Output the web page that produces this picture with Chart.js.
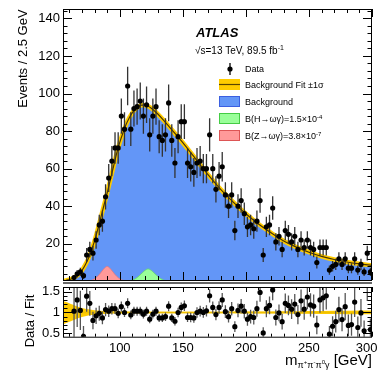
<!DOCTYPE html>
<html>
<head>
<meta charset="utf-8">
<script src="https://cdn.jsdelivr.net/npm/chart.js@4/dist/chart.umd.min.js"></script>
<style>
  html, body { margin: 0; padding: 0; background: #fff; }
  #wrap { position: relative; width: 391px; height: 382px; overflow: hidden; }
  canvas { position: absolute; left: 0; }
  #main { top: 0; }
  #ratio { top: 283px; }
</style>
</head>
<body>
<div id="wrap">
  <canvas id="main" width="391" height="284"></canvas>
  <canvas id="ratio" width="391" height="99"></canvas>
</div>
<script>
const FONT = '"Liberation Sans", Arial, Helvetica, sans-serif';

// 2.5 GeV bins, first filled bin centred at 63.75 GeV
const binLow = 62.5;
const binWidth = 2.5;

const counts = [
  2, 4, 5, 3, 14, 17, 15, 22, 30, 32,
  45, 55, 64, 71, 71, 88, 81, 104, 81, 92,
  93, 96, 88, 94, 78, 88, 93, 77, 75, 78,
  95, 75, 63, 77, 85, 85, 63, 61, 58, 63,
  64, 60, 60, 78, 60, 49, 56, 61, 46, 40,
  46, 27, 40, 43, 36, 29, 30, 28, 32, 43,
  14, 29, 30, 39, 21, 24, 17, 27, 25, 21,
  24, 17, 22, 18, 22, 18, 17, 10, 18, 18,
  18, 6, 8, 9, 12, 9, 12, 7, 7, 12,
  6, 9, 5, 15, 5
];

const ratio = [
  1.03, 1.30, 1.05, 0.43, 1.39, 1.22, 0.81, 0.92, 0.98, 0.87,
  1.07, 1.03, 1.09, 1.09, 0.98, 1.14, 1.00, 1.22, 0.94, 1.03,
  1.03, 1.03, 0.96, 1.03, 0.84, 0.96, 1.03, 0.87, 0.87, 0.90,
  1.15, 0.87, 0.79, 1.00, 1.12, 1.16, 0.88, 0.88, 0.87, 1.00,
  1.03, 1.00, 1.04, 1.40, 1.12, 0.95, 1.12, 1.30, 1.02, 0.90,
  1.09, 0.66, 1.05, 1.15, 1.03, 0.84, 0.90, 0.88, 1.09, 1.48,
  0.51, 1.09, 1.17, 1.54, 0.88, 0.99, 0.78, 1.22, 1.17, 1.08,
  1.20, 0.95, 1.28, 1.08, 1.37, 1.18, 1.15, 0.70, 1.30, 1.35,
  1.40, 0.48, 0.67, 0.78, 1.07, 0.83, 1.14, 0.69, 0.71, 1.25,
  0.64, 0.99, 0.56, 1.72, 0.59
];

const fitMass = [55, 57.5, 60, 62.5, 65, 67.5, 70, 72.5, 75, 77.5,
  80, 82.5, 85, 87.5, 90, 92.5, 95, 97.5, 100, 102.5,
  105, 107.5, 110, 112.5, 115, 117.5, 120, 122.5, 125, 130,
  135, 140, 145, 150, 155, 160, 165, 170, 175, 180,
  185, 190, 195, 200, 210, 220, 230, 240, 250, 260,
  270, 280, 290, 300];
const fitVals = [0.2, 0.5, 0.9, 1.5, 2.5, 3.8, 5.8, 8.6, 12, 16.3,
  21.5, 27.5, 34, 40.5, 47, 54, 61, 68, 74, 79,
  83.5, 87, 89.8, 91.8, 93.1, 93.8, 93.8, 93.2, 92.2, 89.2,
  85.6, 81.7, 77.8, 73.8, 69.6, 65.3, 61, 56.8, 52.8, 49,
  45.5, 42.2, 39, 36, 30.5, 25.8, 21.5, 18.2, 15.5, 13.3,
  11.6, 10.3, 9.3, 8.5];

const zMass = [74, 78, 81, 84, 86, 88, 90, 92, 94, 96, 99, 102, 106];
const zVals = [0, 0.6, 1.8, 3.8, 5.5, 7.1, 7.9, 7.1, 5.5, 3.8, 1.8, 0.6, 0];
const hMass = [106, 110, 113, 116, 118, 120, 122.5, 125, 127, 129, 132, 135, 139];
const hVals = [0, 0.6, 1.6, 3.3, 4.6, 5.8, 6.6, 5.8, 4.6, 3.3, 1.6, 0.6, 0];

const bandMass = [55, 57.5, 60, 62.5, 65, 67.5, 70, 75, 80, 85, 90, 95, 100, 110, 120, 140, 160, 180, 200, 220, 240, 260, 280, 300];
const bandUp = [1.28, 1.25, 1.22, 1.19, 1.16, 1.13, 1.11, 1.075, 1.055, 1.04, 1.032, 1.027, 1.024, 1.02, 1.02, 1.02, 1.02, 1.02, 1.022, 1.025, 1.03, 1.035, 1.04, 1.045];
const bandLo = [0.72, 0.75, 0.78, 0.81, 0.84, 0.87, 0.89, 0.925, 0.945, 0.96, 0.968, 0.973, 0.976, 0.98, 0.98, 0.98, 0.98, 0.98, 0.978, 0.975, 0.97, 0.965, 0.96, 0.955];

const mainYTicks = [20, 40, 60, 80, 100, 120, 140];
const ratioYTicks = [0.5, 1, 1.5];
const xTicks = [100, 150, 200, 250, 300];

const centers = counts.map((_, i) => binLow + binWidth * (i + 0.5));
const xy = (xs, ys) => xs.map((x, i) => ({ x: x, y: ys[i] }));

const BLUE = 'rgb(99,150,247)';
const YELLOW = '#ffcc00';

// draw text made of runs (sub/superscripts), aligned left or right at x
function drawRuns(ctx, runs, x, y, align) {
  let total = 0;
  runs.forEach(r => {
    ctx.font = (r.style || '') + ' ' + r.s + 'px ' + FONT;
    r.w = ctx.measureText(r.t).width;
    total += r.w;
  });
  let cx = align === 'right' ? x - total : x;
  ctx.textAlign = 'left';
  ctx.textBaseline = 'alphabetic';
  runs.forEach(r => {
    ctx.font = (r.style || '') + ' ' + r.s + 'px ' + FONT;
    ctx.fillText(r.t, cx, y + (r.dy || 0));
    cx += r.w;
  });
}

function drawFrameTicks(chart, yMin, yMax, yStep, isMajor, yLen, xLen) {
  const { ctx, chartArea: a } = chart;
  const xs = chart.scales.x, ys = chart.scales.y;
  ctx.save();
  ctx.strokeStyle = '#000';
  ctx.lineWidth = 1;
  ctx.beginPath();
  for (let v = 60; v <= 300; v += 10) {
    const px = Math.round(xs.getPixelForValue(v)) + 0.5;
    const len = v % 50 === 0 ? xLen[0] : xLen[1];
    ctx.moveTo(px, a.bottom); ctx.lineTo(px, a.bottom - len);
    ctx.moveTo(px, a.top); ctx.lineTo(px, a.top + len);
  }
  for (let i = yMin; i <= yMax; i++) {
    const v = i * yStep;
    const py = Math.round(ys.getPixelForValue(v)) + 0.5;
    const len = isMajor(i) ? yLen[0] : yLen[1];
    ctx.moveTo(a.left, py); ctx.lineTo(a.left + len, py);
    ctx.moveTo(a.right, py); ctx.lineTo(a.right - len, py);
  }
  ctx.stroke();
  ctx.strokeRect(a.left + 0.5, a.top + 0.5, a.right - a.left - 1, a.bottom - a.top);
  ctx.restore();
}

function drawErrors(chart, meta, errs, color) {
  const { ctx, chartArea: a } = chart;
  const ys = chart.scales.y;
  ctx.save();
  ctx.beginPath();
  ctx.rect(a.left, a.top, a.right - a.left, a.bottom - a.top);
  ctx.clip();
  ctx.strokeStyle = color;
  ctx.lineWidth = 1.3;
  ctx.beginPath();
  meta.data.forEach((pt, i) => {
    const v = meta._parsed[i].y;
    ctx.moveTo(pt.x, ys.getPixelForValue(v + errs[i]));
    ctx.lineTo(pt.x, ys.getPixelForValue(v - errs[i]));
  });
  ctx.stroke();
  ctx.restore();
}

function noPadY(s, w) {
  s.width = w;
  s.paddingTop = 0;
  s.paddingBottom = 0;
}

const mainDecor = {
  id: 'mainDecor',
  beforeDatasetDraw(chart, args) {
    if (args.index === 0) {
      drawErrors(chart, args.meta, counts.map(n => Math.sqrt(n)), '#333');
    }
  },
  afterDraw(chart) {
    const ctx = chart.ctx;
    drawFrameTicks(chart, 1, 36, 4, i => i % 5 === 0, [9, 4.5], [8, 4]);
    ctx.save();
    // panel divider
    ctx.strokeStyle = '#666';
    ctx.lineWidth = 2;
    ctx.beginPath();
    ctx.moveTo(chart.chartArea.left, 283);
    ctx.lineTo(chart.chartArea.right, 283);
    ctx.stroke();

    ctx.fillStyle = '#000';
    // y title
    ctx.save();
    ctx.translate(23, 58.5);
    ctx.rotate(-Math.PI / 2);
    ctx.font = '13px ' + FONT;
    ctx.textAlign = 'center';
    ctx.textBaseline = 'middle';
    ctx.fillText('Events / 2.5 GeV', 0, 0);
    ctx.restore();

    // ATLAS label
    drawRuns(ctx, [{ t: 'ATLAS', s: 13, style: 'italic bold' }], 196, 37, 'left');
    drawRuns(ctx, [{ t: '\u221As=13 TeV, 89.5 fb', s: 10 }, { t: '-1', s: 7, dy: -4 }], 195, 54, 'left');

    // legend
    const tx = 245;
    ctx.strokeStyle = '#000';
    ctx.lineWidth = 1.3;
    ctx.beginPath(); ctx.moveTo(230, 63); ctx.lineTo(230, 75); ctx.stroke();
    ctx.beginPath(); ctx.arc(230, 69, 2.6, 0, Math.PI * 2); ctx.fill();
    drawRuns(ctx, [{ t: 'Data', s: 9 }], tx, 72.2, 'left');

    ctx.fillStyle = YELLOW;
    ctx.fillRect(219, 79, 21, 11);
    ctx.strokeStyle = '#5a4500';
    ctx.lineWidth = 1.2;
    ctx.beginPath(); ctx.moveTo(219, 84.5); ctx.lineTo(240, 84.5); ctx.stroke();
    ctx.fillStyle = '#000';
    drawRuns(ctx, [{ t: 'Background Fit \u00B11\u03C3', s: 9 }], tx, 88, 'left');

    const boxes = [
      { y: 96, fill: BLUE, line: '#3b5fe0', runs: [{ t: 'Background', s: 9 }] },
      { y: 113, fill: '#99ff99', line: '#44cc44', runs: [{ t: 'B(H\u2192\u03C9\u03B3)=1.5\u00D710', s: 9 }, { t: '-4', s: 6, dy: -3.5 }] },
      { y: 130, fill: '#ff9999', line: '#dd5555', runs: [{ t: 'B(Z\u2192\u03C9\u03B3)=3.8\u00D710', s: 9 }, { t: '-7', s: 6, dy: -3.5 }] }
    ];
    boxes.forEach(b => {
      ctx.fillStyle = b.fill;
      ctx.fillRect(219, b.y, 21, 11);
      ctx.strokeStyle = b.line;
      ctx.lineWidth = 1;
      ctx.strokeRect(219.5, b.y + 0.5, 20, 10);
      ctx.fillStyle = '#000';
      drawRuns(ctx, b.runs, tx, b.y + 9, 'left');
    });
    ctx.restore();
  }
};

new Chart(document.getElementById('main'), {
  type: 'line',
  data: {
    datasets: [
      { label: 'Data', data: xy(centers, counts), showLine: false, pointRadius: 2.6,
        pointBackgroundColor: '#000', pointBorderWidth: 0, order: 0 },
      { label: 'Fit', data: xy(fitMass, fitVals), borderColor: '#4a3500', borderWidth: 1.2,
        pointRadius: 0, cubicInterpolationMode: 'monotone', order: 1 },
      { label: 'Fit band', data: xy(fitMass, fitVals), borderColor: YELLOW, borderWidth: 4.5,
        pointRadius: 0, cubicInterpolationMode: 'monotone', order: 2 },
      { label: 'H', data: xy(hMass, hVals), fill: 'origin', backgroundColor: '#99ff99',
        borderColor: '#66dd66', borderWidth: 0.8, pointRadius: 0, cubicInterpolationMode: 'monotone', order: 3 },
      { label: 'Z', data: xy(zMass, zVals), fill: 'origin', backgroundColor: '#ff9999',
        borderColor: '#ee7777', borderWidth: 0.8, pointRadius: 0, cubicInterpolationMode: 'monotone', order: 3 },
      { label: 'Background', data: xy(fitMass, fitVals), fill: 'origin', backgroundColor: BLUE,
        borderWidth: 0, pointRadius: 0, cubicInterpolationMode: 'monotone', order: 4 }
    ]
  },
  options: {
    responsive: false,
    animation: false,
    events: [],
    layout: { padding: { top: 9, right: 19, bottom: 1, left: 0 } },
    plugins: { legend: { display: false }, tooltip: { enabled: false } },
    scales: {
      x: { type: 'linear', min: 55, max: 300, display: false },
      y: {
        min: 0.7, max: 145,
        afterFit(s) { noPadY(s, 63); },
        afterBuildTicks(s) { s.ticks = mainYTicks.map(v => ({ value: v })); },
        grid: { display: false, drawTicks: false },
        border: { display: false },
        ticks: { font: { family: FONT, size: 13 }, color: '#000', padding: 3 }
      }
    }
  },
  plugins: [mainDecor]
});

const ratioErr = ratio.map((r, i) => r / Math.sqrt(counts[i]));

const ratioDecor = {
  id: 'ratioDecor',
  beforeDatasetDraw(chart, args) {
    if (args.index === 0) drawErrors(chart, args.meta, ratioErr, '#555');
  },
  afterDraw(chart) {
    const ctx = chart.ctx;
    drawFrameTicks(chart, 5, 16, 0.1, i => i % 5 === 0, [9, 4.5], [5, 3]);
    ctx.save();
    ctx.fillStyle = '#000';
    ctx.save();
    ctx.translate(30, 38);
    ctx.rotate(-Math.PI / 2);
    ctx.font = '13px ' + FONT;
    ctx.textAlign = 'center';
    ctx.textBaseline = 'middle';
    ctx.fillText('Data / Fit', 0, 0);
    ctx.restore();
    drawRuns(ctx, [
      { t: 'm', s: 15 },
      { t: '\u03C0', s: 9, dy: 3 }, { t: '+', s: 6, dy: -1 },
      { t: '\u03C0', s: 9, dy: 3 }, { t: '-', s: 6, dy: -1 },
      { t: '\u03C0', s: 9, dy: 3 }, { t: '0', s: 6, dy: -1 },
      { t: '\u03B3', s: 9, dy: 3 },
      { t: ' [GeV]', s: 15 }
    ], 372, 82, 'right');
    ctx.restore();
  }
};

new Chart(document.getElementById('ratio'), {
  type: 'line',
  data: {
    datasets: [
      { label: 'Ratio', data: xy(centers, ratio), showLine: false, pointRadius: 2.6,
        pointBackgroundColor: '#000', pointBorderWidth: 0, order: 0 },
      { label: 'One', data: xy([55, 300], [1, 1]), borderColor: '#f0c000', borderWidth: 1.5,
        pointRadius: 0, order: 1 },
      { label: 'Up', data: xy(bandMass, bandUp), borderWidth: 0, pointRadius: 0,
        fill: '+1', backgroundColor: YELLOW, cubicInterpolationMode: 'monotone', order: 2 },
      { label: 'Lo', data: xy(bandMass, bandLo), borderWidth: 0, pointRadius: 0,
        cubicInterpolationMode: 'monotone', order: 3 }
    ]
  },
  options: {
    responsive: false,
    animation: false,
    events: [],
    layout: { padding: { top: 0, right: 19, bottom: 0, left: 0 } },
    plugins: { legend: { display: false }, tooltip: { enabled: false } },
    scales: {
      x: {
        type: 'linear', min: 55, max: 300,
        afterFit(s) { s.height = 45.3; s.paddingLeft = 0; s.paddingRight = 0; },
        afterBuildTicks(s) { s.ticks = xTicks.map(v => ({ value: v })); },
        grid: { display: false, drawTicks: false },
        border: { display: false },
        ticks: {
          font: { family: FONT, size: 13 }, color: '#000', padding: 4, maxRotation: 0, autoSkip: false,
          // last label sits inside the frame, as in the original
          callback: v => (v === 300 ? '300   ' : String(v))
        }
      },
      y: {
        min: 0.42, max: 1.61,
        afterFit(s) { noPadY(s, 63); },
        afterBuildTicks(s) { s.ticks = ratioYTicks.map(v => ({ value: v })); },
        grid: { display: false, drawTicks: false },
        border: { display: false },
        ticks: { font: { family: FONT, size: 13 }, color: '#000', padding: 3, callback: v => String(v) }
      }
    }
  },
  plugins: [ratioDecor]
});
</script>
</body>
</html>
